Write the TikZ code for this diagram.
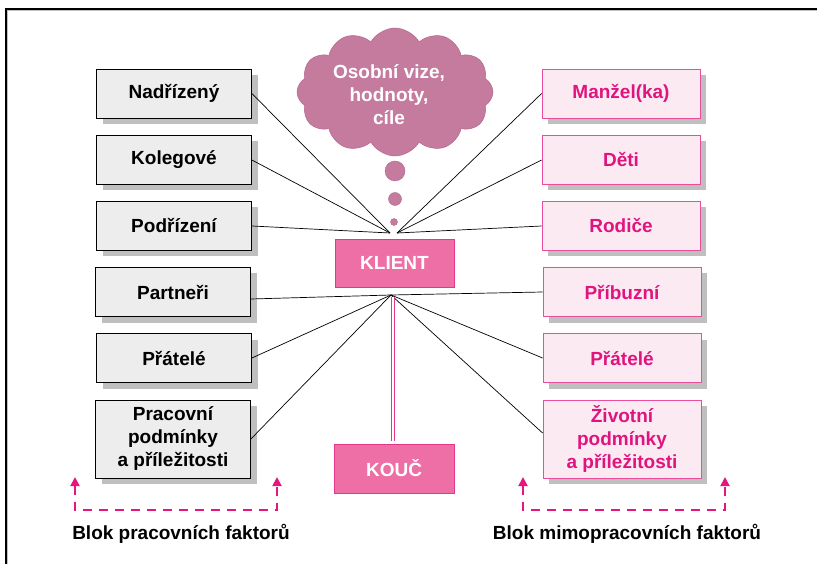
\documentclass[tikz,border=0pt]{standalone}
\usepackage{fontspec}
\setmainfont{Liberation Sans}
\usetikzlibrary{shapes.symbols,shadows,arrows.meta}
\definecolor{lgray}{HTML}{EDEDED}
\definecolor{shgray}{HTML}{BFBFBF}
\definecolor{lpink}{HTML}{FCEAF3}
\definecolor{pborder}{HTML}{EC4C9C}
\definecolor{ptext}{HTML}{E0147E}
\definecolor{kfill}{HTML}{EE6FA5}
\definecolor{kborder}{HTML}{E3378C}
\definecolor{cloudfill}{HTML}{C47B9E}
\definecolor{cloudline}{HTML}{B5668D}
\definecolor{dashpink}{HTML}{E6157F}
\begin{document}
\begin{tikzpicture}[x=1pt,y=-1pt,
  txt/.style={font=\fontsize{19}{23}\selectfont\bfseries, align=center, inner sep=0pt},
  leftbox/.style={txt, draw=black, line width=0.8pt, fill=lgray, minimum width=155pt, minimum height=49pt,
    general shadow={fill=shgray, shadow xshift=6pt, shadow yshift=-6pt}},
  rightbox/.style={txt, draw=pborder, line width=0.8pt, fill=lpink, text=ptext, minimum width=158pt, minimum height=49pt,
    general shadow={fill=shgray, shadow xshift=6pt, shadow yshift=-6pt}},
  kbox/.style={txt, draw=kborder, line width=0.8pt, fill=kfill, text=white, minimum width=119pt, minimum height=48pt},
  conn/.style={draw=black, line width=0.7pt},
  bubble/.style={circle, fill=cloudfill, draw=cloudline, line width=0.4pt, inner sep=0pt},
  bracket/.style={draw=dashpink, line width=1.8pt, dash pattern=on 9pt off 7pt, {Triangle[length=9pt,width=9pt]}-{Triangle[length=9pt,width=9pt]}}
]
\useasboundingbox (0,0) rectangle (817,564);
\fill[white] (0,0) rectangle (817,564);
% frame
\draw[shgray, line width=1.2pt] (7.5,564) -- (7.5,10.5) -- (817,10.5);
\draw[black, line width=1.2pt] (6,564) -- (6,9) -- (817,9);

% cloud
\node[cloud, cloud puffs=12, cloud puff arc=120, aspect=1.6, fill=cloudfill, draw=cloudline, line width=0.5pt,
  minimum width=196pt, minimum height=128pt, inner sep=0pt] (cloud) at (395,92) {};
\node[txt, text=white] (cloudtext) at (389,95) {Osobní vize,\\hodnoty,\\cíle};
\node[bubble, minimum size=20pt] (b1) at (395,171) {};
\node[bubble, minimum size=13pt] (b2) at (395,199) {};
\node[bubble, minimum size=7pt] (b3) at (394,222) {};

% left boxes
\node[leftbox] (nad) at (174,93.5) {Nadřízený};
\node[leftbox] (kol) at (174,160) {Kolegové};
\node[leftbox] (pod) at (174,226) {Podřízení};
\node[leftbox] (par) at (173,292) {Partneři};
\node[leftbox] (pra) at (174,358) {Přátelé};
\node[leftbox, minimum height=78pt] (prac) at (173,439) {Pracovní\\podmínky\\a příležitosti};

% right boxes
\node[rightbox] (man) at (621,93.5) {Manžel(ka)};
\node[rightbox] (det) at (621,160) {Děti};
\node[rightbox] (rod) at (621,226) {Rodiče};
\node[rightbox] (pri) at (622,292) {Příbuzní};
\node[rightbox] (prr) at (622,358) {Přátelé};
\node[rightbox, minimum height=78pt] (ziv) at (622,439) {Životní\\podmínky\\a příležitosti};

% client and coach
\node[kbox] (klient) at (394.5,263) {KLIENT};
\node[kbox, minimum width=120pt, minimum height=49pt] (kouc) at (394,468.5) {KOUČ};

% convergence points
\coordinate (ul) at (390,233);
\coordinate (ur) at (397,233);
\coordinate (lo) at (391,295);

\draw[conn] (nad.east) -- (ul);
\draw[conn] (kol.east) -- (ul);
\draw[conn] (pod.east) -- (ul);
\draw[conn] (man.west) -- (ur);
\draw[conn] (det.west) -- (ur);
\draw[conn] (rod.west) -- (ur);
\draw[conn] ([yshift=-7pt]par.east) -- (lo);
\draw[conn] (pra.east) -- (lo);
\draw[conn] (prac.east) -- (lo);
\draw[conn] (pri.west) -- (lo);
\draw[conn] (prr.west) -- (lo);
\draw[conn] ([yshift=6pt]ziv.west) -- (lo);

% double line klient - kouc
\coordinate (dtop) at (393,297);
\draw[kborder, double=white, double distance=1.8pt, line width=1pt] (dtop) -- ([yshift=3pt]kouc.north -| dtop);

% brackets
\coordinate (la) at (75,477);
\coordinate (lb) at (75,510);
\coordinate (lc) at (277,510);
\coordinate (ld) at (277,477);
\draw[bracket] (la) -- (lb) -- (lc) -- (ld);
\coordinate (ra) at (523,477);
\coordinate (rb) at (523,510);
\coordinate (rc) at (725,510);
\coordinate (rd) at (725,477);
\draw[bracket] (ra) -- (rb) -- (rc) -- (rd);

\node[txt] (blok1) at (181,534) {Blok pracovních faktorů};
\node[txt] (blok2) at (627,534) {Blok mimopracovních faktorů};
\end{tikzpicture}
\end{document}
